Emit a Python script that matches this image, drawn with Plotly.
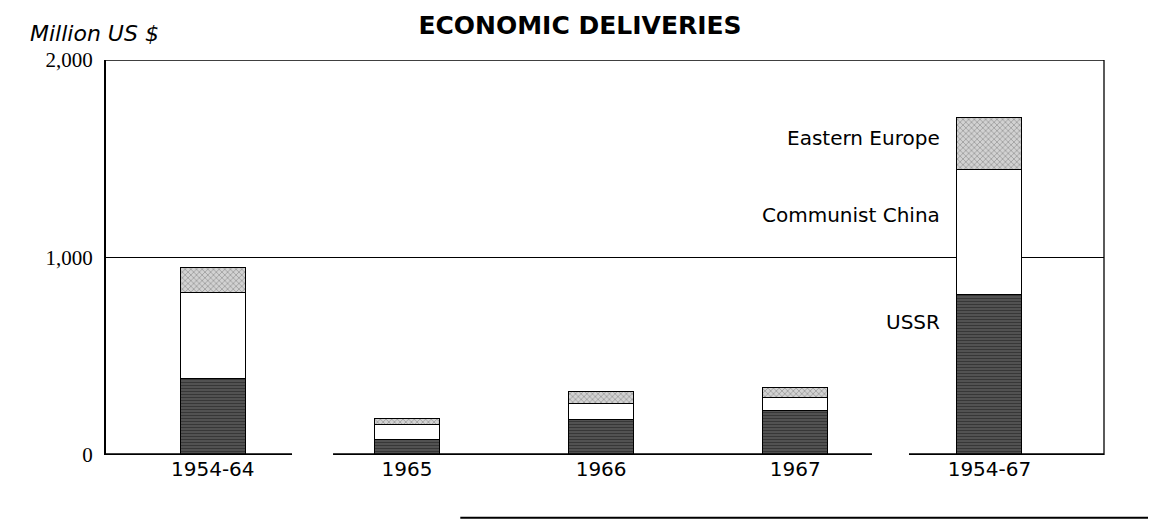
import plotly.graph_objects as go

categories = ["1954-64", "1965", "1966", "1967", "1954-67"]
ussr = [385, 76, 182, 223, 815]
china = [440, 76, 81, 66, 633]
eastern_europe = [122, 35, 61, 55, 263]
y_ticks = [0, 1000, 2000]
y_tick_labels = ["0", "1,000", "2,000"]

fig = go.Figure()
fig.add_trace(go.Bar(
    x=categories, y=ussr, name="USSR", width=0.335,
    marker=dict(color="#404040", line=dict(color="black", width=1),
                pattern=dict(shape="-", bgcolor="#5a5a5a", fgcolor="#141414", size=3, solidity=0.5)),
))
fig.add_trace(go.Bar(
    x=categories, y=china, name="Communist China", width=0.335,
    marker=dict(color="white", line=dict(color="black", width=1)),
))
fig.add_trace(go.Bar(
    x=categories, y=eastern_europe, name="Eastern Europe", width=0.335,
    marker=dict(color="#bdbdbd", line=dict(color="black", width=1),
                pattern=dict(shape="x", bgcolor="#d2d2d2", fgcolor="#5e5e5e", size=4, solidity=0.35)),
))

label_font = dict(family="DejaVu Sans", size=20, color="black")
fig.add_annotation(x="1954-67", y=1605, xref="x", yref="y", text="Eastern Europe",
                   xanchor="right", xshift=-47, showarrow=False, font=label_font)
fig.add_annotation(x="1954-67", y=1215, xref="x", yref="y", text="Communist China",
                   xanchor="right", xshift=-47, showarrow=False, font=label_font)
fig.add_annotation(x="1954-67", y=675, xref="x", yref="y", text="USSR",
                   xanchor="right", xshift=-47, showarrow=False, font=label_font)

fig.add_annotation(x=-0.078, y=1.068, xref="paper", yref="paper", text="<i>Million US $</i>",
                   xanchor="left", yanchor="middle", showarrow=False,
                   font=dict(family="DejaVu Sans", size=22, color="black"))

shapes = []
# gridline at 1,000 (behind bars)
shapes.append(dict(type="line", xref="paper", yref="y", x0=0, x1=1, y0=1000, y1=1000,
                   line=dict(color="black", width=1), layer="below"))
# top frame line
shapes.append(dict(type="line", xref="paper", yref="y", x0=0, x1=1, y0=2000, y1=2000,
                   line=dict(color="black", width=1.3)))
# right frame line
shapes.append(dict(type="line", xref="paper", yref="y", x0=1, x1=1, y0=0, y1=2000,
                   line=dict(color="black", width=1.3)))
# thick baseline segments
for a, b in [(0.0, 0.1864), (0.2275, 0.7675), (0.8046, 1.0)]:
    shapes.append(dict(type="line", xref="paper", yref="y", x0=a, x1=b, y0=0, y1=0,
                       line=dict(color="black", width=3.5)))
# page rule at bottom
shapes.append(dict(type="line", xref="paper", yref="paper", x0=0.355, x1=1.06, y0=-0.159, y1=-0.159,
                   line=dict(color="black", width=2)))

fig.update_layout(
    width=1156, height=523,
    margin=dict(l=98, r=60, t=52, b=76),
    barmode="stack",
    showlegend=False,
    plot_bgcolor="white", paper_bgcolor="white",
    shapes=shapes,
    title=dict(text="<b>ECONOMIC DELIVERIES</b>", x=572 / 1156, xref="container", xanchor="center",
               y=1 - 17 / 523, yref="container", yanchor="middle",
               font=dict(family="DejaVu Sans", size=25, color="black")),
    xaxis=dict(range=[-0.55, 4.59], showgrid=False, showline=False, zeroline=False,
               ticks="", tickfont=dict(family="DejaVu Sans", size=20, color="black")),
    yaxis=dict(range=[0, 2000], tickvals=y_ticks, ticktext=y_tick_labels, showgrid=False,
               zeroline=False, showline=True, linecolor="black", linewidth=2, ticks="",
               ticklabelstandoff=7,
               tickfont=dict(family="Liberation Serif", size=21, color="black")),
)

fig.write_html("out.html")
